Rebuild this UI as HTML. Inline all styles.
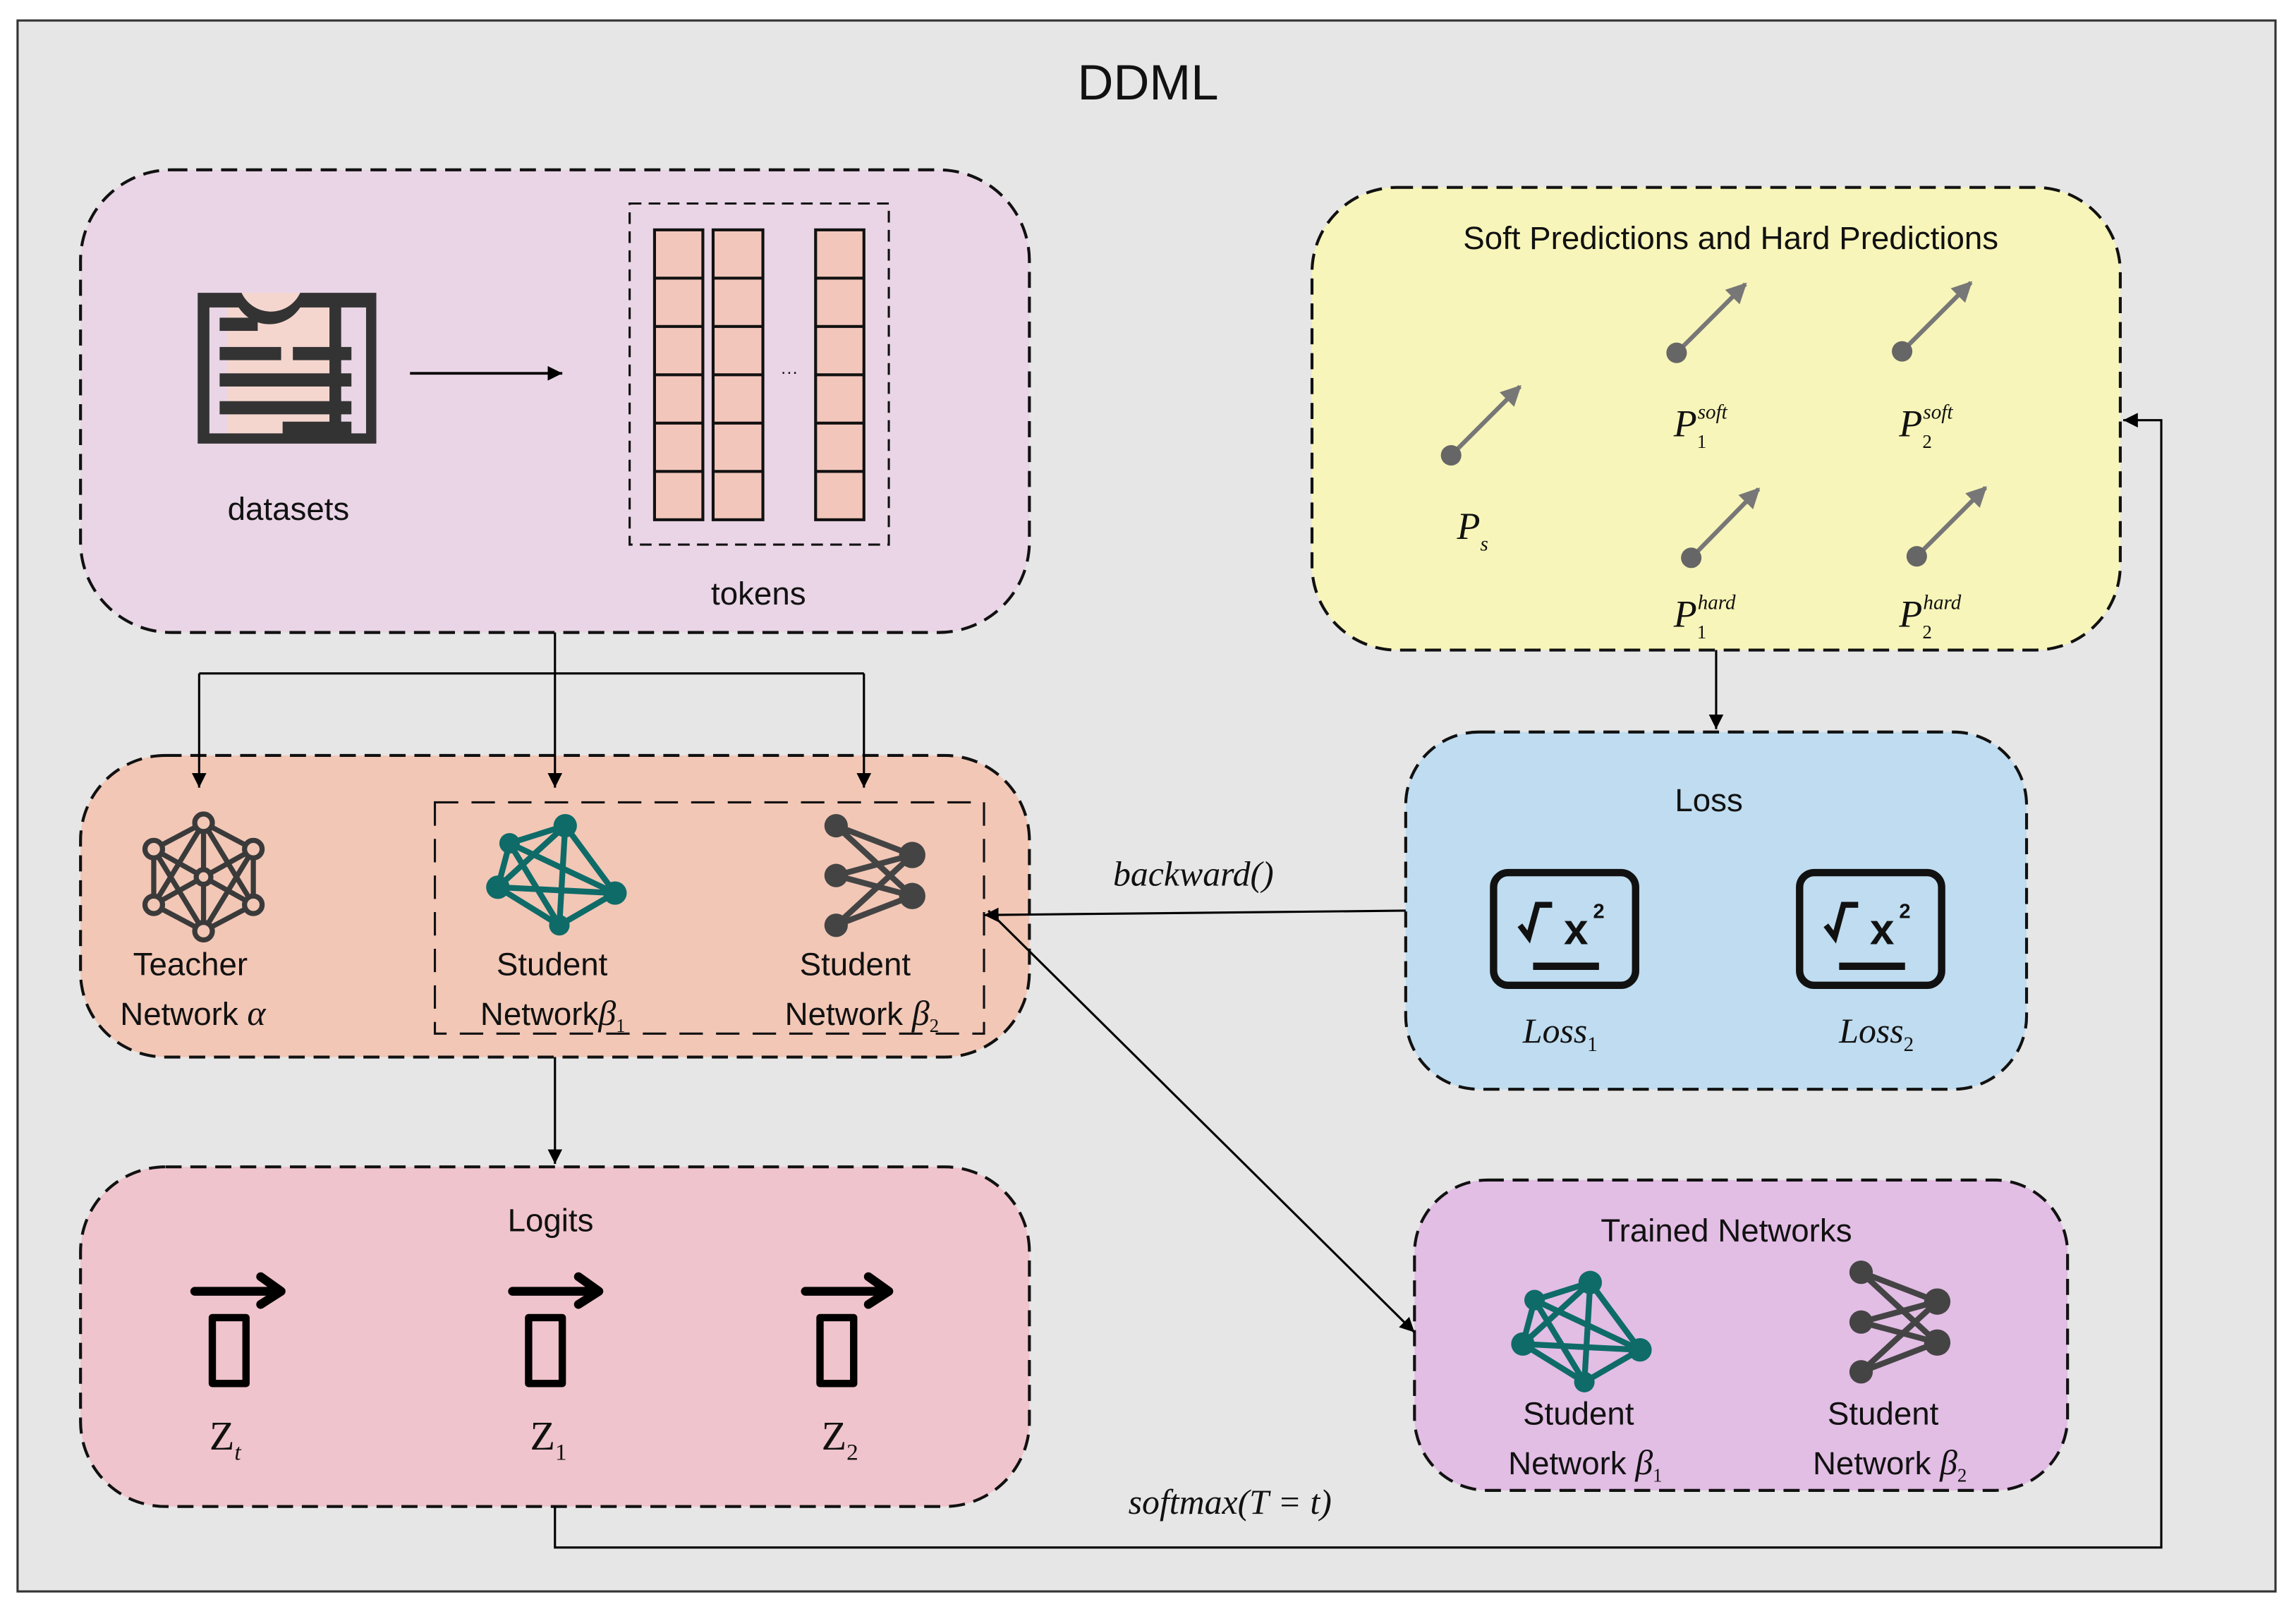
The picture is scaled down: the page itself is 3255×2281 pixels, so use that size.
<!DOCTYPE html>
<html><head><meta charset="utf-8"><style>
html,body{margin:0;padding:0;background:#fff}
svg{display:block}
.t{font-family:"Liberation Sans",sans-serif;fill:#111}
.m{font-family:"Liberation Serif",serif;font-style:italic;fill:#111}
.r{font-family:"Liberation Serif",serif;fill:#111}
</style></head><body>
<svg width="3255" height="2281" viewBox="0 0 1568 1099" preserveAspectRatio="none" xmlns="http://www.w3.org/2000/svg">
<defs>
<marker id="a" viewBox="0 0 10 10" refX="10" refY="5" markerWidth="10" markerHeight="10" markerUnits="userSpaceOnUse" orient="auto"><path d="M0,0 L10,5 L0,10 z" fill="#000"/></marker>
<marker id="g" viewBox="0 0 10 10" refX="9" refY="5" markerWidth="14" markerHeight="14" markerUnits="userSpaceOnUse" orient="auto"><path d="M0,0 L10,5 L0,10 z" fill="#777"/></marker>
<g id="teal"><g stroke="currentColor" stroke-width="4" fill="none"><path d="M-32,-22 L6,-34 L40,12 L2,34 L-40,8 Z M-32,-22 L40,12 M6,-34 L2,34 M-32,-22 L2,34 M6,-34 L-40,8 M-40,8 L40,12"/></g><g fill="currentColor"><circle cx="-32" cy="-22" r="7"/><circle cx="6" cy="-34" r="8"/><circle cx="40" cy="12" r="8"/><circle cx="2" cy="34" r="7"/><circle cx="-40" cy="8" r="8"/></g></g>
<g id="gray"><g stroke="currentColor" stroke-width="4" fill="none"><path d="M-26,-34 L26,-14 M-26,0 L26,14 M-26,34 L26,14 M-26,-34 L26,14 M-26,34 L26,-14 M-26,0 L26,-14"/></g><g fill="currentColor"><circle cx="-26" cy="-34" r="8"/><circle cx="-26" cy="0" r="8"/><circle cx="-26" cy="34" r="8"/><circle cx="26" cy="-14" r="9"/><circle cx="26" cy="14" r="9"/></g></g>
</defs>
<rect x="0" y="0" width="1568" height="1099" fill="#fff"/>
<rect x="12" y="14" width="1542" height="1073" fill="#e6e6e6" stroke="#333" stroke-width="1.5"/>
<text class="t" x="784" y="68" font-size="34" text-anchor="middle">DDML</text>

<g stroke="#111" stroke-width="2" stroke-dasharray="11,6">
<rect x="55" y="116" width="648" height="316" rx="62" fill="#e9d5e6"/>
<rect x="896" y="128" width="552" height="316" rx="58" fill="#f7f5b9"/>
<rect x="55" y="516" width="648" height="206" rx="58" fill="#f2c7b6"/>
<rect x="960" y="500" width="424" height="244" rx="50" fill="#bfdcf0"/>
<rect x="55" y="797" width="648" height="232" rx="58" fill="#f0c4cc"/>
<rect x="966" y="806" width="446" height="212" rx="50" fill="#e2bde4"/>
<rect x="430" y="139" width="177" height="233" fill="none" stroke-width="1.5" stroke-dasharray="8,5"/>
<rect x="297" y="548" width="375" height="158" fill="none" stroke-width="1.5" stroke-dasharray="16,9"/>
</g>

<!-- datasets icon -->
<rect x="155" y="200" width="70" height="100" fill="#f5d6cf"/>
<path d="M135,200 H165 A22,22 0 0 0 205,200 H257 V303 H135 Z M143,210 V296 H225 V210 H205 A25,25 0 0 1 163,210 Z M233,210 V296 H250 V210 Z" fill="#333" fill-rule="evenodd"/>
<g fill="#333"><rect x="150" y="217" width="26" height="9"/><rect x="150" y="237" width="42" height="9"/><rect x="200" y="237" width="25" height="9"/><rect x="150" y="255" width="75" height="9"/><rect x="150" y="274" width="75" height="9"/><rect x="193" y="288" width="32" height="9"/>
<rect x="225" y="237" width="15" height="9"/><rect x="225" y="255" width="15" height="9"/><rect x="225" y="274" width="15" height="9"/><rect x="225" y="288" width="15" height="9"/></g>
<text class="t" x="197" y="355" font-size="22" text-anchor="middle">datasets</text>
<line x1="280" y1="255" x2="384" y2="255" stroke="#000" stroke-width="1.8" marker-end="url(#a)"/>

<!-- tokens -->
<g fill="#f3c6bb" stroke="#111" stroke-width="2">
<rect x="447" y="157" width="33" height="198"/><rect x="487" y="157" width="34" height="198"/><rect x="557" y="157" width="33" height="198"/>
</g>
<g stroke="#111" stroke-width="2">
<path d="M447,190H480M447,223H480M447,256H480M447,289H480M447,322H480 M487,190H521M487,223H521M487,256H521M487,289H521M487,322H521 M557,190H590M557,223H590M557,256H590M557,289H590M557,322H590"/>
</g>
<text class="t" x="539" y="258" font-size="12" text-anchor="middle">···</text>
<text class="t" x="518" y="413" font-size="22" text-anchor="middle">tokens</text>

<!-- connectors -->
<g stroke="#000" stroke-width="1.5" fill="none">
<path d="M379,432 V460"/><path d="M136,460 H590"/>
<path d="M136,460 V538" marker-end="url(#a)"/><path d="M379,460 V538" marker-end="url(#a)"/><path d="M590,460 V538" marker-end="url(#a)"/>
<path d="M379,722 V795" marker-end="url(#a)"/>
<path d="M1172,444 V498" marker-end="url(#a)"/>
<path d="M960,622 L672,625" marker-end="url(#a)"/>
<path d="M675,622 L966,910" marker-end="url(#a)"/>
<path d="M379,1029 V1057 H1476 V287 H1450" marker-end="url(#a)"/>
</g>
<text class="m" x="815" y="605" font-size="24" text-anchor="middle">backward()</text>
<text class="m" x="840" y="1034" font-size="24" text-anchor="middle">softmax(<tspan font-style="italic">T</tspan> = <tspan>t</tspan>)</text>

<!-- yellow box -->
<text class="t" x="1182" y="170" font-size="22" text-anchor="middle">Soft Predictions and Hard Predictions</text>
<g stroke="#777" stroke-width="3" fill="#666">
<line x1="991" y1="311" x2="1038" y2="264" marker-end="url(#g)"/><circle cx="991" cy="311" r="7" stroke="none"/>
<line x1="1145" y1="241" x2="1192" y2="194" marker-end="url(#g)"/><circle cx="1145" cy="241" r="7" stroke="none"/>
<line x1="1299" y1="240" x2="1346" y2="193" marker-end="url(#g)"/><circle cx="1299" cy="240" r="7" stroke="none"/>
<line x1="1155" y1="381" x2="1201" y2="334" marker-end="url(#g)"/><circle cx="1155" cy="381" r="7" stroke="none"/>
<line x1="1309" y1="380" x2="1356" y2="333" marker-end="url(#g)"/><circle cx="1309" cy="380" r="7" stroke="none"/>
</g>
<text class="m" x="995" y="368" font-size="26">P<tspan font-size="14" dy="8">s</tspan></text>
<text class="m" x="1143" y="298" font-size="26">P<tspan font-size="13" font-style="normal" dy="8">1</tspan><tspan font-size="14" dx="-6" dy="-20">soft</tspan></text>
<text class="m" x="1297" y="298" font-size="26">P<tspan font-size="13" font-style="normal" dy="8">2</tspan><tspan font-size="14" dx="-6" dy="-20">soft</tspan></text>
<text class="m" x="1143" y="428" font-size="26">P<tspan font-size="13" font-style="normal" dy="8">1</tspan><tspan font-size="14" dx="-6" dy="-20">hard</tspan></text>
<text class="m" x="1297" y="428" font-size="26">P<tspan font-size="13" font-style="normal" dy="8">2</tspan><tspan font-size="14" dx="-6" dy="-20">hard</tspan></text>

<!-- loss -->
<text class="t" x="1167" y="554" font-size="22" text-anchor="middle">Loss</text>
<g fill="none" stroke="#111" stroke-width="5">
<rect x="1020" y="596" width="97" height="77" rx="10"/><rect x="1229" y="596" width="97" height="77" rx="10"/>
<path d="M1047,660 H1092 M1256,660 H1301"/>
<path d="M1038,632 L1044,640 L1050,618 H1060 M1247,632 L1253,640 L1259,618 H1269" stroke-width="4"/>
</g>
<text class="t" x="1068" y="645" font-size="30" font-weight="bold">x</text><text class="t" x="1088" y="627" font-size="14" font-weight="bold">2</text>
<text class="t" x="1277" y="645" font-size="30" font-weight="bold">x</text><text class="t" x="1297" y="627" font-size="14" font-weight="bold">2</text>
<text class="m" x="1040" y="712" font-size="24">Loss<tspan font-size="14" font-style="normal" dy="6">1</tspan></text>
<text class="m" x="1256" y="712" font-size="24">Loss<tspan font-size="14" font-style="normal" dy="6">2</tspan></text>

<!-- networks -->
<g transform="translate(139,598)" fill="none" stroke="#3a3a3a" stroke-width="3.5">
<path d="M0,-36 L34,-18 L34,20 L0,38 L-34,20 L-34,-18 Z"/>
<path d="M0,-36 L0,38 M-34,-18 L34,20 M34,-18 L-34,20 M0,-36 L-34,20 M0,-36 L34,20 M0,38 L-34,-18 M0,38 L34,-18"/>
<g fill="#f2c7b6"><circle cx="0" cy="-36" r="6"/><circle cx="34" cy="-18" r="6"/><circle cx="34" cy="20" r="6"/><circle cx="0" cy="38" r="6"/><circle cx="-34" cy="20" r="6"/><circle cx="-34" cy="-18" r="6"/><circle cx="0" cy="1" r="5"/></g>
</g>
<use href="#teal" x="380" y="598" color="#0e6b68"/>
<use href="#gray" x="597" y="598" color="#444"/>
<text class="t" x="130" y="666" font-size="22" text-anchor="middle">Teacher</text>
<text class="t" x="82" y="700" font-size="22">Network <tspan class="m" font-size="24">α</tspan></text>
<text class="t" x="377" y="666" font-size="22" text-anchor="middle">Student</text>
<text class="t" x="328" y="700" font-size="22">Network<tspan class="m" font-size="24">β</tspan><tspan class="r" font-size="13" dy="5">1</tspan></text>
<text class="t" x="584" y="666" font-size="22" text-anchor="middle">Student</text>
<text class="t" x="536" y="700" font-size="22">Network <tspan class="m" font-size="24">β</tspan><tspan class="r" font-size="13" dy="5">2</tspan></text>

<!-- logits -->
<text class="t" x="376" y="841" font-size="22" text-anchor="middle">Logits</text>
<g stroke="#000" stroke-width="6" fill="none" stroke-linecap="round" stroke-linejoin="round">
<path d="M133,882 H190 M178,872 L192,882 L178,891"/><rect x="145" y="900" width="23" height="45" stroke-width="5"/>
<path d="M350,882 H407 M395,872 L409,882 L395,891"/><rect x="361" y="900" width="23" height="45" stroke-width="5"/>
<path d="M550,882 H605 M593,872 L607,882 L593,891"/><rect x="560" y="900" width="23" height="45" stroke-width="5"/>
</g>
<text class="r" x="143" y="990" font-size="28">Z<tspan class="m" font-size="16" dy="7">t</tspan></text>
<text class="r" x="362" y="990" font-size="28">Z<tspan font-size="16" dy="7">1</tspan></text>
<text class="r" x="561" y="990" font-size="28">Z<tspan font-size="16" dy="7">2</tspan></text>

<!-- trained -->
<text class="t" x="1179" y="848" font-size="22" text-anchor="middle">Trained Networks</text>
<use href="#teal" x="1080" y="910" color="#0e6b68"/>
<use href="#gray" x="1297" y="903" color="#444"/>
<text class="t" x="1078" y="973" font-size="22" text-anchor="middle">Student</text>
<text class="t" x="1030" y="1007" font-size="22">Network <tspan class="m" font-size="24">β</tspan><tspan class="r" font-size="13" dy="5">1</tspan></text>
<text class="t" x="1286" y="973" font-size="22" text-anchor="middle">Student</text>
<text class="t" x="1238" y="1007" font-size="22">Network  <tspan class="m" font-size="24">β</tspan><tspan class="r" font-size="13" dy="5">2</tspan></text>
</svg>
</body></html>
